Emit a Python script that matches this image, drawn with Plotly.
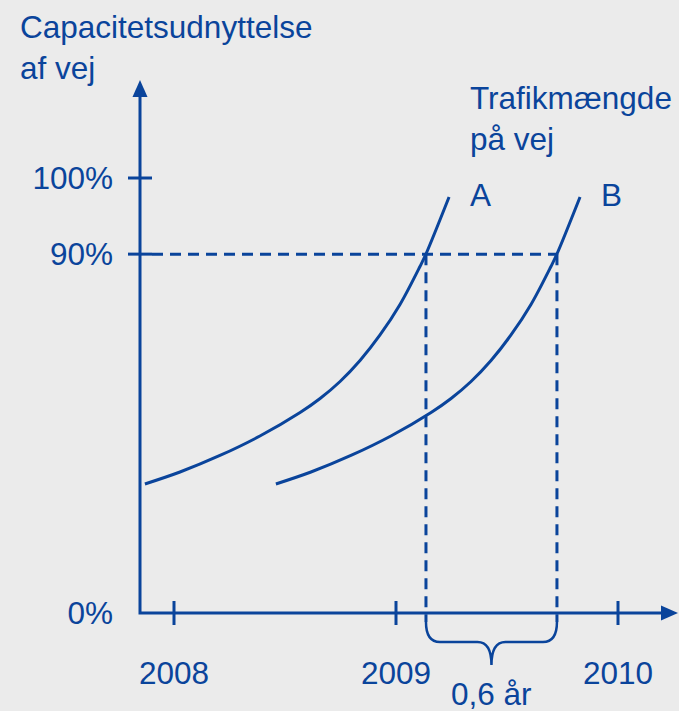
import plotly.graph_objects as go

BLUE = "#0a449b"
BG = "#ebebeb"
FONT = "Liberation Sans, Arial, sans-serif"

# ---- data (schematic: capacity use of a road over time) ----
YEARS = [2008, 2009, 2010]
YEAR_LABELS = ["2008", "2009", "2010"]
LEVELS = [0, 82.5, 100]          # schematic positions of the y ticks
LEVEL_LABELS = ["0%", "90%", "100%"]

A_X = [2007.869, 2008.027, 2008.207, 2008.387, 2008.568, 2008.658, 2008.748,
       2008.838, 2008.928, 2009.018, 2009.108, 2009.135, 2009.239]
A_Y = [29.66, 32.41, 36.21, 40.69, 46.09, 49.31, 53.22,
       58.05, 63.91, 70.92, 79.66, 82.53, 95.63]
B_X = [2008.459, 2008.617, 2008.797, 2008.977, 2009.158, 2009.248, 2009.338,
       2009.428, 2009.518, 2009.608, 2009.698, 2009.725, 2009.829]
B_Y = [29.66, 32.41, 36.21, 40.69, 46.09, 49.31, 53.22,
       58.05, 63.91, 70.92, 79.66, 82.53, 95.63]

CROSS_LEVEL = 82.5               # the 90% level
A_CROSS = 2009.135
B_CROSS = 2009.725
GAP_LABEL = "0,6 år"

Y_TITLE = "Capacitetsudnyttelse<br>af vej"
X_TITLE = "Trafikmængde<br>på vej"

# ---- pixel scale of the drawing ----
W, H = 679, 711
PX_YEAR = 222.0
PX_UNIT = 4.35


def dx(p):
    return p / PX_YEAR


def dy(p):
    return p / PX_UNIT


X_RANGE = [2008 - dx(174), 2008 + dx(W - 174)]
Y_RANGE = [-dy(H - 613), dy(613)]
X0 = 2008 - dx(34)           # axis origin
X_END = 2008 + dx(489)       # end of x axis line
Y_END = dy(518)              # end of y axis line

fig = go.Figure()

# axes
fig.add_trace(go.Scatter(
    x=[X0, X0, X_END], y=[Y_END, 0, 0], mode="lines",
    line=dict(color=BLUE, width=3), hoverinfo="skip", showlegend=False,
))

# dashed guides at 90%
fig.add_trace(go.Scatter(
    x=[X0 + dx(12), B_CROSS, None, A_CROSS, A_CROSS, None, B_CROSS, B_CROSS],
    y=[CROSS_LEVEL, CROSS_LEVEL, None, CROSS_LEVEL, -dy(9), None, CROSS_LEVEL, -dy(9)],
    mode="lines", line=dict(color=BLUE, width=3, dash="11px,7px"),
    hoverinfo="skip", showlegend=False,
))

# curves
for xs, ys, name in [(A_X, A_Y, "A"), (B_X, B_Y, "B")]:
    fig.add_trace(go.Scatter(
        x=xs, y=ys, mode="lines", name=name,
        line=dict(color=BLUE, width=3, shape="spline", smoothing=1.0),
        showlegend=False,
    ))

shapes = []
# arrowheads
shapes.append(dict(
    type="path", fillcolor=BLUE, line=dict(width=0), xref="x", yref="y",
    path=(f"M {X0 - dx(7.5)},{Y_END - dy(2)} L {X0 + dx(7.5)},{Y_END - dy(2)} "
          f"L {X0},{Y_END + dy(15)} Z"),
))
shapes.append(dict(
    type="path", fillcolor=BLUE, line=dict(width=0), xref="x", yref="y",
    path=(f"M {X_END - dx(2)},{-dy(7.5)} L {X_END - dx(2)},{dy(7.5)} "
          f"L {X_END + dx(15)},0 Z"),
))
# tick marks crossing the axes
for yr in YEARS:
    shapes.append(dict(type="line", xref="x", yref="y", x0=yr, x1=yr,
                       y0=-dy(12), y1=dy(12), line=dict(color=BLUE, width=3)))
for lv in LEVELS[1:]:
    shapes.append(dict(type="line", xref="x", yref="y", x0=X0 - dx(12), x1=X0 + dx(12),
                       y0=lv, y1=lv, line=dict(color=BLUE, width=3)))

# brace under the gap
xl, xr = A_CROSS, B_CROSS
xm = (xl + xr) / 2
yt, yb, yp = -dy(9), -dy(29), -dy(52)
brace = (
    f"M {xl},{yt} Q {xl},{yb} {xl + dx(14)},{yb} L {xm - dx(14)},{yb} "
    f"Q {xm},{yb} {xm},{yp} Q {xm},{yb} {xm + dx(14)},{yb} "
    f"L {xr - dx(14)},{yb} Q {xr},{yb} {xr},{yt}"
)
shapes.append(dict(type="path", xref="x", yref="y", path=brace,
                   line=dict(color=BLUE, width=2.5)))

font = dict(family=FONT, size=31.5, color=BLUE)
annotations = [
    dict(text=Y_TITLE, xref="paper", yref="paper", x=18 / W, y=1 - 7 / H,
         xanchor="left", yanchor="top", align="left", showarrow=False, font=font),
    dict(text=X_TITLE, xref="paper", yref="paper", x=468 / W, y=1 - 78 / H,
         xanchor="left", yanchor="top", align="left", showarrow=False, font=font),
    dict(text="A", xref="x", yref="y", x=A_X[-1], y=A_Y[-1], xshift=31, yshift=2,
         xanchor="center", yanchor="middle", showarrow=False, font=font),
    dict(text="B", xref="x", yref="y", x=B_X[-1], y=B_Y[-1], xshift=31, yshift=2,
         xanchor="center", yanchor="middle", showarrow=False, font=font),
    dict(text=GAP_LABEL, xref="x", yref="y", x=xm, y=yp, yshift=-9,
         xanchor="center", yanchor="top", showarrow=False, font=font),
]

fig.update_layout(
    width=W, height=H,
    margin=dict(l=0, r=0, t=0, b=0),
    paper_bgcolor=BG, plot_bgcolor=BG,
    font=font,
    shapes=shapes,
    annotations=annotations,
    xaxis=dict(
        range=X_RANGE, domain=[0, 1], anchor="free", position=(H - 613) / H,
        tickmode="array", tickvals=YEARS, ticktext=YEAR_LABELS,
        ticks="", showline=False, showgrid=False, zeroline=False,
        ticklabelstandoff=38, tickfont=font, automargin=False, fixedrange=True,
    ),
    yaxis=dict(
        range=Y_RANGE, domain=[0, 1], anchor="free", position=140 / W,
        tickmode="array", tickvals=LEVELS, ticktext=LEVEL_LABELS,
        ticks="", showline=False, showgrid=False, zeroline=False,
        ticklabelstandoff=27, tickfont=font, automargin=False, fixedrange=True,
    ),
)

# the page's default body margin would shift the drawing by 8px
fig.write_html("out.html", config={"displayModeBar": False},
               post_script="document.body.style.margin='0';")
